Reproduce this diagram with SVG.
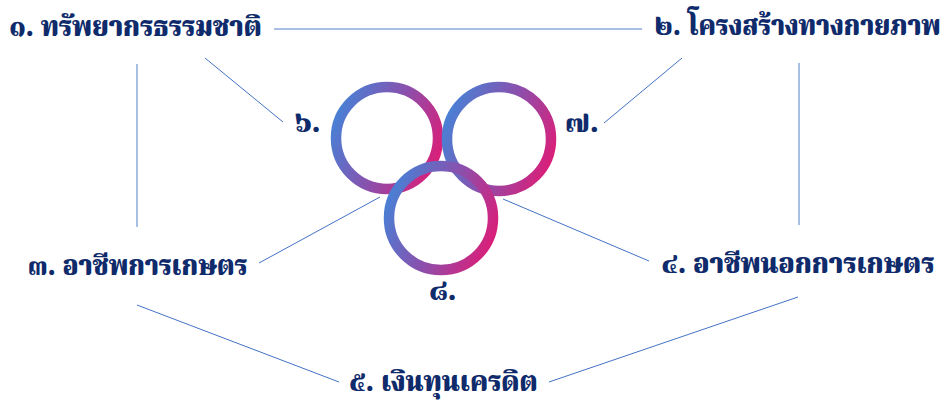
<svg xmlns="http://www.w3.org/2000/svg" width="945" height="401" viewBox="0 0 945 401">
<style>
.t{font-family:"Noto Serif Thai","Noto Sans Thai Looped","Noto Sans Thai","Noto Sans","DejaVu Sans",sans-serif;font-weight:900;fill:#0f2b6b;font-size:29px;text-anchor:middle}
.s{font-size:28px}
.thin{stroke:#4472c4;stroke-width:1;fill:none}
.soft{stroke:#8eaadb;stroke-width:1.5;fill:none}
.ring{fill:none;stroke-width:10.5}
</style>
<defs>
<linearGradient id="g" x1="0" y1="0.3" x2="1" y2="0.7">
<stop offset="0" stop-color="#4a7fd4"/>
<stop offset="0.5" stop-color="#8a50ad"/>
<stop offset="1" stop-color="#d8207a"/>
</linearGradient>
</defs>
<g id="connectors">
<line class="soft" x1="274" y1="29" x2="642" y2="29"/>
<line class="soft" x1="137" y1="64" x2="137" y2="227"/>
<line class="soft" x1="799" y1="63" x2="799" y2="225"/>
<line class="thin" x1="205" y1="58" x2="283" y2="122"/>
<line class="thin" x1="682" y1="58" x2="604" y2="123"/>
<line class="thin" x1="380" y1="197" x2="259" y2="263"/>
<line class="thin" x1="503" y1="199" x2="649" y2="261"/>
<line class="thin" x1="137" y1="305" x2="339" y2="382"/>
<line class="thin" x1="798" y1="297" x2="549" y2="382"/>
</g>
<g id="rings">
<circle class="ring" cx="387" cy="138" r="51" stroke="url(#g)"/>
<circle class="ring" cx="499" cy="139" r="52" stroke="url(#g)"/>
<circle class="ring" cx="441" cy="218" r="52" stroke="url(#g)"/>
</g>
<g id="n1"><text class="t" transform="translate(135.5,36) scale(0.9,1)">๑. ทรัพยากรธรรมชาติ</text></g>
<g id="n2"><text class="t" transform="translate(797.5,35) scale(0.87,1)">๒. โครงสร้างทางกายภาพ</text></g>
<g id="n3"><text class="t" transform="translate(137.5,275) scale(0.88,1)">๓. อาชีพการเกษตร</text></g>
<g id="n4"><text class="t" transform="translate(798,273) scale(0.905,1)">๔. อาชีพนอกการเกษตร</text></g>
<g id="n5"><text class="t" transform="translate(443.5,391) scale(0.91,1)">๕. เงินทุนเครดิต</text></g>
<g id="n6"><text class="t s" x="308" y="132">๖.</text></g>
<g id="n7"><text class="t s" x="582" y="132">๗.</text></g>
<g id="n8"><text class="t s" x="443" y="300">๘.</text></g>
</svg>
